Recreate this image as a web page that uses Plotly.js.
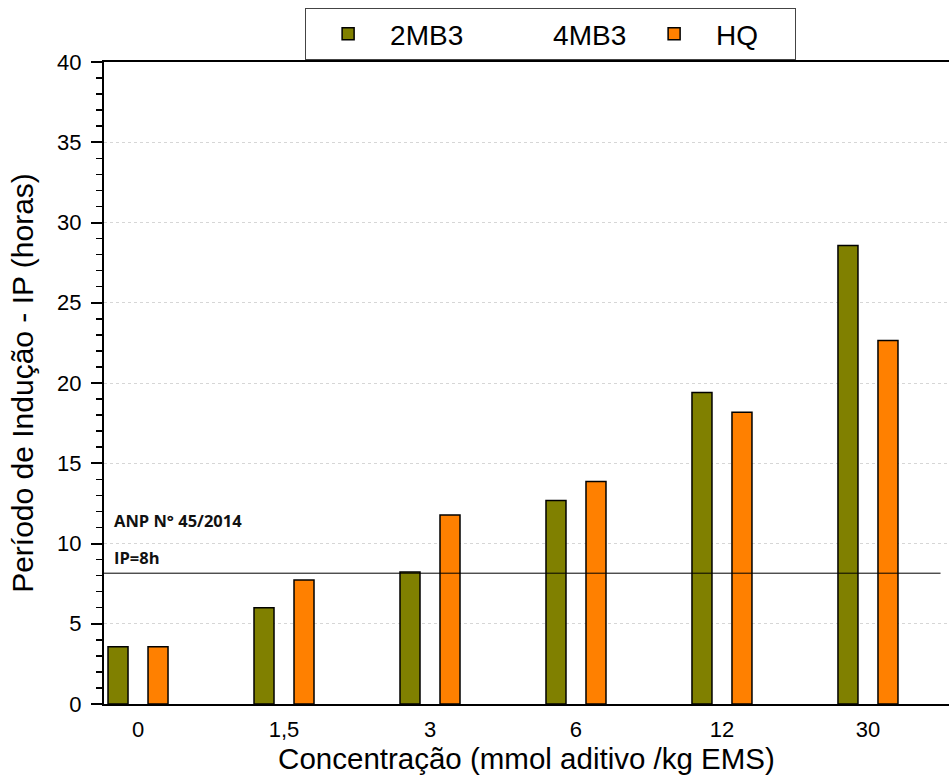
<!DOCTYPE html>
<html><head><meta charset="utf-8">
<script src="https://cdn.plot.ly/plotly-3.0.1.min.js"></script>
<style>html,body{margin:0;padding:0;background:#fff}#chart{width:949px;height:776px}</style>
</head><body><div id="chart"></div>
<script>
// ---- data ----
const categories = ["0", "1,5", "3", "6", "12", "30"];
const seriesNames = ["2MB3", "4MB3", "HQ"];
const values2MB3 = [3.57, 6.0, 8.23, 12.68, 19.41, 28.56];
const values4MB3 = [null, null, null, null, null, null];
const valuesHQ = [3.57, 7.72, 11.78, 13.86, 18.17, 22.65];
const ipLimit = 8.15;
const limitLabels = ["ANP N° 45/2014", "IP=8h"];
const yTickVals = [0, 5, 10, 15, 20, 25, 30, 35, 40];

const font = "Liberation Sans, Arial, sans-serif";
const barLine = {color: "#000", width: 1.5};

const traces = [
  {type: "bar", name: seriesNames[0], x: categories, y: values2MB3,
   marker: {color: "#808000", line: barLine}},
  {type: "bar", name: seriesNames[1], x: categories, y: values4MB3,
   marker: {color: "rgba(0,0,0,0)", line: {width: 0}}},
  {type: "bar", name: seriesNames[2], x: categories, y: valuesHQ,
   marker: {color: "#FF8000", line: barLine}}
];

const layout = {
  width: 949, height: 776,
  margin: {l: 104, r: 0, t: 62, b: 72, autoexpand: false},
  paper_bgcolor: "#fff", plot_bgcolor: "#fff",
  font: {family: font, color: "#000"},
  barmode: "group", bargap: 0.589, bargroupgap: 0,
  showlegend: true,
  legend: {orientation: "h", x: 0.238, y: 1.084, xanchor: "left", yanchor: "top",
    bgcolor: "#fff", bordercolor: "#444", borderwidth: 1,
    font: {size: 28, family: font, color: "#000"},
    itemwidth: 74, entrywidth: 74, entrywidthmode: "pixels", traceorder: "normal"},
  xaxis: {type: "category", range: [-0.233, 5.555],
    showline: true, linecolor: "#000", linewidth: 2, mirror: true,
    ticks: "", showgrid: false, zeroline: false,
    tickfont: {size: 22, family: font}, ticklabelstandoff: 5,
    title: {text: "Concentração (mmol aditivo /kg EMS)", font: {size: 29.5, family: font}, standoff: 4}},
  yaxis: {range: [0, 40], tickvals: yTickVals,
    showline: true, linecolor: "#000", linewidth: 2, mirror: false,
    ticks: "outside", ticklen: 11, tickwidth: 2, tickcolor: "#000",
    minor: {dtick: 1, ticks: "outside", ticklen: 6, tickwidth: 1.5, tickcolor: "#000", showgrid: false},
    showgrid: true, gridcolor: "#d6d6d6", griddash: "dot", gridwidth: 1,
    zeroline: false, ticklabelstandoff: 5,
    tickfont: {size: 22, family: font},
    title: {text: "Período de Indução - IP (horas)", font: {size: 30, family: font}}},
  shapes: [
    {type: "line", xref: "paper", yref: "y", x0: 0, x1: 0.99, y0: ipLimit, y1: ipLimit,
     line: {color: "#000", width: 1}}
  ],
  annotations: [
    {xref: "paper", yref: "y", x: 0.01, y: 11.45, xanchor: "left", yanchor: "middle",
     text: "<b>" + limitLabels[0] + "</b>", showarrow: false,
     font: {family: "Open Sans, sans-serif", size: 16.5, color: "#111"}},
    {xref: "paper", yref: "y", x: 0.01, y: 9.15, xanchor: "left", yanchor: "middle",
     text: "<b>" + limitLabels[1] + "</b>", showarrow: false,
     font: {family: "Open Sans, sans-serif", size: 16.5, color: "#111"}}
  ]
};

Plotly.newPlot("chart", traces, layout, {displayModeBar: false, staticPlot: true});
</script>
</body></html>
